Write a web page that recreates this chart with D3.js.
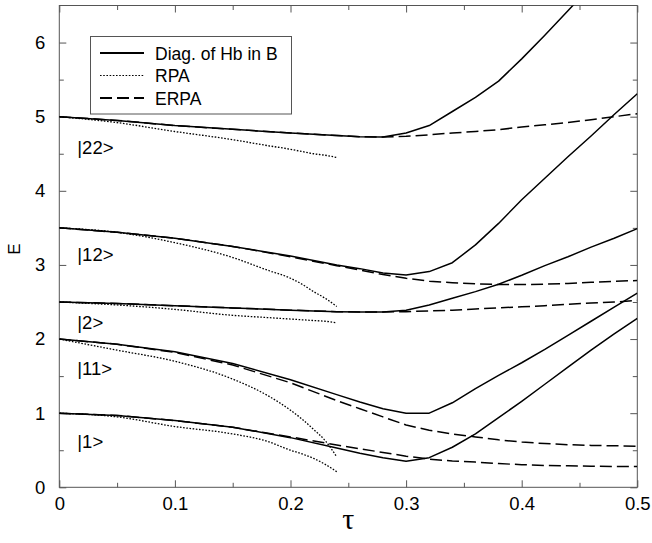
<!DOCTYPE html>
<html>
<head>
<meta charset="utf-8">
<script src="https://cdn.jsdelivr.net/npm/d3@7"></script>
<style>
  html, body { margin: 0; padding: 0; background: #fff; }
  svg { display: block; }
  text { font-family: "Liberation Sans", Arial, Helvetica, sans-serif; fill: #000; }
</style>
</head>
<body>
<svg id="chart" width="652" height="543"></svg>
<script>
// Coupling strength grid for the exact diagonalisation and ERPA curves
const tauFull = [0, 0.05, 0.1, 0.15, 0.2, 0.24, 0.26, 0.28, 0.3, 0.32, 0.34, 0.36, 0.38, 0.4, 0.42, 0.44, 0.46, 0.48, 0.5];
// RPA breaks down near tau = 0.24, so its grid stops there
const tauRPA = [0, 0.05, 0.1, 0.15, 0.18, 0.2, 0.21, 0.22, 0.23, 0.24];

// Diagonalisation of Hb in B (solid)
const diag1  = [1.0, 0.97, 0.9, 0.81, 0.67, 0.53, 0.46, 0.4, 0.35, 0.4, 0.54, 0.72, 0.94, 1.16, 1.39, 1.62, 1.85, 2.07, 2.28];
const diag11 = [2.0, 1.93, 1.83, 1.67, 1.45, 1.25, 1.15, 1.06, 1.0, 1.0, 1.14, 1.33, 1.51, 1.68, 1.86, 2.05, 2.24, 2.43, 2.62];
const diag2  = [2.5, 2.48, 2.45, 2.42, 2.39, 2.37, 2.365, 2.365, 2.39, 2.46, 2.55, 2.64, 2.74, 2.86, 2.99, 3.11, 3.24, 3.36, 3.49];
const diag12 = [3.5, 3.44, 3.36, 3.25, 3.12, 3.0, 2.95, 2.89, 2.865, 2.91, 3.03, 3.27, 3.56, 3.88, 4.17, 4.46, 4.74, 5.03, 5.31];
const diag22 = [5.0, 4.95, 4.88, 4.83, 4.78, 4.745, 4.73, 4.725, 4.78, 4.88, 5.07, 5.26, 5.48, 5.78, 6.1, 6.43, 6.76];

// ERPA (long dashes)
const erpa1  = [1.0, 0.97, 0.9, 0.81, 0.68, 0.57, 0.52, 0.47, 0.42, 0.38, 0.355, 0.34, 0.32, 0.305, 0.295, 0.29, 0.285, 0.28, 0.28];
const erpa11 = [2.0, 1.93, 1.82, 1.65, 1.41, 1.17, 1.06, 0.95, 0.84, 0.77, 0.72, 0.68, 0.64, 0.61, 0.59, 0.575, 0.565, 0.56, 0.555];
const erpa2  = [2.5, 2.48, 2.45, 2.42, 2.39, 2.37, 2.365, 2.365, 2.37, 2.38, 2.39, 2.405, 2.42, 2.435, 2.45, 2.47, 2.485, 2.5, 2.52];
const erpa12 = [3.5, 3.44, 3.36, 3.25, 3.11, 2.99, 2.93, 2.87, 2.82, 2.78, 2.76, 2.745, 2.735, 2.735, 2.74, 2.75, 2.765, 2.78, 2.79];
const erpa22 = [5.0, 4.95, 4.88, 4.83, 4.78, 4.745, 4.73, 4.725, 4.735, 4.755, 4.78, 4.8, 4.825, 4.86, 4.89, 4.92, 4.96, 5.0, 5.04];

// RPA (dotted)
const rpa1  = [1.0, 0.95, 0.82, 0.72, 0.62, 0.5, 0.45, 0.39, 0.31, 0.21];
const rpa11 = [2.0, 1.85, 1.7, 1.46, 1.24, 1.04, 0.92, 0.78, 0.63, 0.41];
const rpa2  = [2.5, 2.46, 2.4, 2.32, 2.29, 2.27, 2.26, 2.25, 2.24, 2.22];
const rpa12 = [3.5, 3.44, 3.3, 3.1, 2.93, 2.82, 2.74, 2.64, 2.55, 2.44];
const rpa22 = [5.0, 4.92, 4.8, 4.69, 4.61, 4.56, 4.53, 4.5, 4.48, 4.45];

// State labels and the energy they sit under
const stateNames = ["|22>", "|12>", "|2>", "|11>", "|1>"];
const stateLabelE = [4.5, 3.05, 2.14, 1.52, 0.53];

const legendNames = ["Diag. of Hb in B", "RPA", "ERPA"];
const xTicks = [0, 0.1, 0.2, 0.3, 0.4, 0.5];
const yTicks = [0, 1, 2, 3, 4, 5, 6];

const svg = d3.select("#chart");
const margin = { left: 59.3, right: 14.7, top: 5.5, bottom: 55.7 };
const W = 652, H = 543;
const x = d3.scaleLinear().domain([0, 0.5]).range([margin.left, W - margin.right]);
const y = d3.scaleLinear().domain([0, 6.5]).range([H - margin.bottom, margin.top]);

svg.append("defs").append("clipPath").attr("id", "plotClip")
  .append("rect")
  .attr("x", x(0)).attr("y", y(6.5))
  .attr("width", x(0.5) - x(0)).attr("height", y(0) - y(6.5));

const frameColor = "#555";

// Tick marks pointing into the plot on all four sides
function tickAxis(gen, ticks, size, fmt) {
  return gen.tickValues(ticks).tickSize(size).tickFormat(fmt);
}
const xMinor = [0.05, 0.15, 0.25, 0.35, 0.45];
const yMinor = [0.5, 1.5, 2.5, 3.5, 4.5, 5.5];
const fmtX = d => d === 0 ? "0" : d3.format(".1f")(d);

svg.append("g").attr("transform", `translate(0,${y(0)})`)
  .call(tickAxis(d3.axisBottom(x), xTicks, -7, fmtX).tickPadding(10));
svg.append("g").attr("transform", `translate(0,${y(0)})`)
  .call(tickAxis(d3.axisBottom(x), xMinor, -4.5, ""));
svg.append("g").attr("transform", `translate(0,${y(6.5)})`)
  .call(tickAxis(d3.axisTop(x), xTicks, -7, ""));
svg.append("g").attr("transform", `translate(0,${y(6.5)})`)
  .call(tickAxis(d3.axisTop(x), xMinor, -4.5, ""));

svg.append("g").attr("transform", `translate(${x(0)},0)`)
  .call(tickAxis(d3.axisLeft(y), yTicks, -7, d3.format("d")).tickPadding(14));
svg.append("g").attr("transform", `translate(${x(0)},0)`)
  .call(tickAxis(d3.axisLeft(y), yMinor, -4.5, ""));
svg.append("g").attr("transform", `translate(${x(0.5)},0)`)
  .call(tickAxis(d3.axisRight(y), yTicks, -7, ""));
svg.append("g").attr("transform", `translate(${x(0.5)},0)`)
  .call(tickAxis(d3.axisRight(y), yMinor, -4.5, ""));

svg.selectAll(".domain").remove();
svg.selectAll(".tick line").attr("stroke", frameColor).attr("stroke-width", 1);
svg.selectAll(".tick text")
  .style("font-family", '"Liberation Sans", Arial, sans-serif')
  .style("font-size", "18.5px").attr("fill", "#000");

// Plot frame
svg.append("rect")
  .attr("x", x(0)).attr("y", y(6.5))
  .attr("width", x(0.5) - x(0)).attr("height", y(0) - y(6.5))
  .attr("fill", "none").attr("stroke", frameColor).attr("stroke-width", 1);

// Curves
const styles = {
  diag: { dash: null, width: 1.5 },
  rpa:  { dash: "1.6,1.6", width: 1.3 },
  erpa: { dash: "12,5", width: 1.5 }
};
const plot = svg.append("g").attr("clip-path", "url(#plotClip)");
const lineLin = d3.line().x(d => x(d[0])).y(d => y(d[1])).curve(d3.curveLinear);
const lineSmooth = d3.line().x(d => x(d[0])).y(d => y(d[1])).curve(d3.curveMonotoneX);

function addCurve(taus, vals, style, gen) {
  const pts = vals.map((v, i) => [taus[i], v]);
  plot.append("path")
    .datum(pts)
    .attr("d", gen)
    .attr("fill", "none")
    .attr("stroke", "#000")
    .attr("stroke-width", styles[style].width)
    .attr("stroke-dasharray", styles[style].dash)
    .attr("stroke-linejoin", "round");
}

[rpa1, rpa11, rpa2, rpa12, rpa22].forEach(v => addCurve(tauRPA, v, "rpa", lineSmooth));
[erpa1, erpa11, erpa2, erpa12, erpa22].forEach(v => addCurve(tauFull, v, "erpa", lineLin));
[diag1, diag11, diag2, diag12, diag22].forEach(v => addCurve(tauFull, v, "diag", lineLin));

// State labels
svg.append("g").selectAll("text")
  .data(stateNames)
  .join("text")
  .attr("x", x(0) + 18)
  .attr("y", (d, i) => y(stateLabelE[i]))
  .style("font-size", "18.5px")
  .text(d => d);

// Legend
const lg = svg.append("g");
lg.append("rect")
  .attr("x", 90.5).attr("y", 36.5).attr("width", 201).attr("height", 77.5)
  .attr("fill", "#fff").attr("stroke", frameColor).attr("stroke-width", 1);
const legendStyles = ["diag", "rpa", "erpa"];
const rowY = [53, 75.5, 98];
legendNames.forEach((name, i) => {
  const st = styles[legendStyles[i]];
  lg.append("line")
    .attr("x1", 100).attr("x2", 144)
    .attr("y1", rowY[i]).attr("y2", rowY[i])
    .attr("stroke", "#000")
    .attr("stroke-width", legendStyles[i] === "rpa" ? 1.2 : 2)
    .attr("stroke-dasharray", st.dash);
  lg.append("text")
    .attr("x", 155).attr("y", rowY[i] + 6.5)
    .style("font-size", "17.5px")
    .text(name);
});

// Axis titles
svg.append("text")
  .attr("transform", `translate(14,249) rotate(-90)`)
  .attr("text-anchor", "middle")
  .attr("dominant-baseline", "central")
  .style("font-size", "17px")
  .text("E");

svg.append("text")
  .attr("x", x(0.25)).attr("y", 529)
  .attr("text-anchor", "middle")
  .style("font-family", '"Liberation Serif", "DejaVu Serif", serif')
  .style("font-size", "30px")
  .text("τ");
</script>
</body>
</html>
